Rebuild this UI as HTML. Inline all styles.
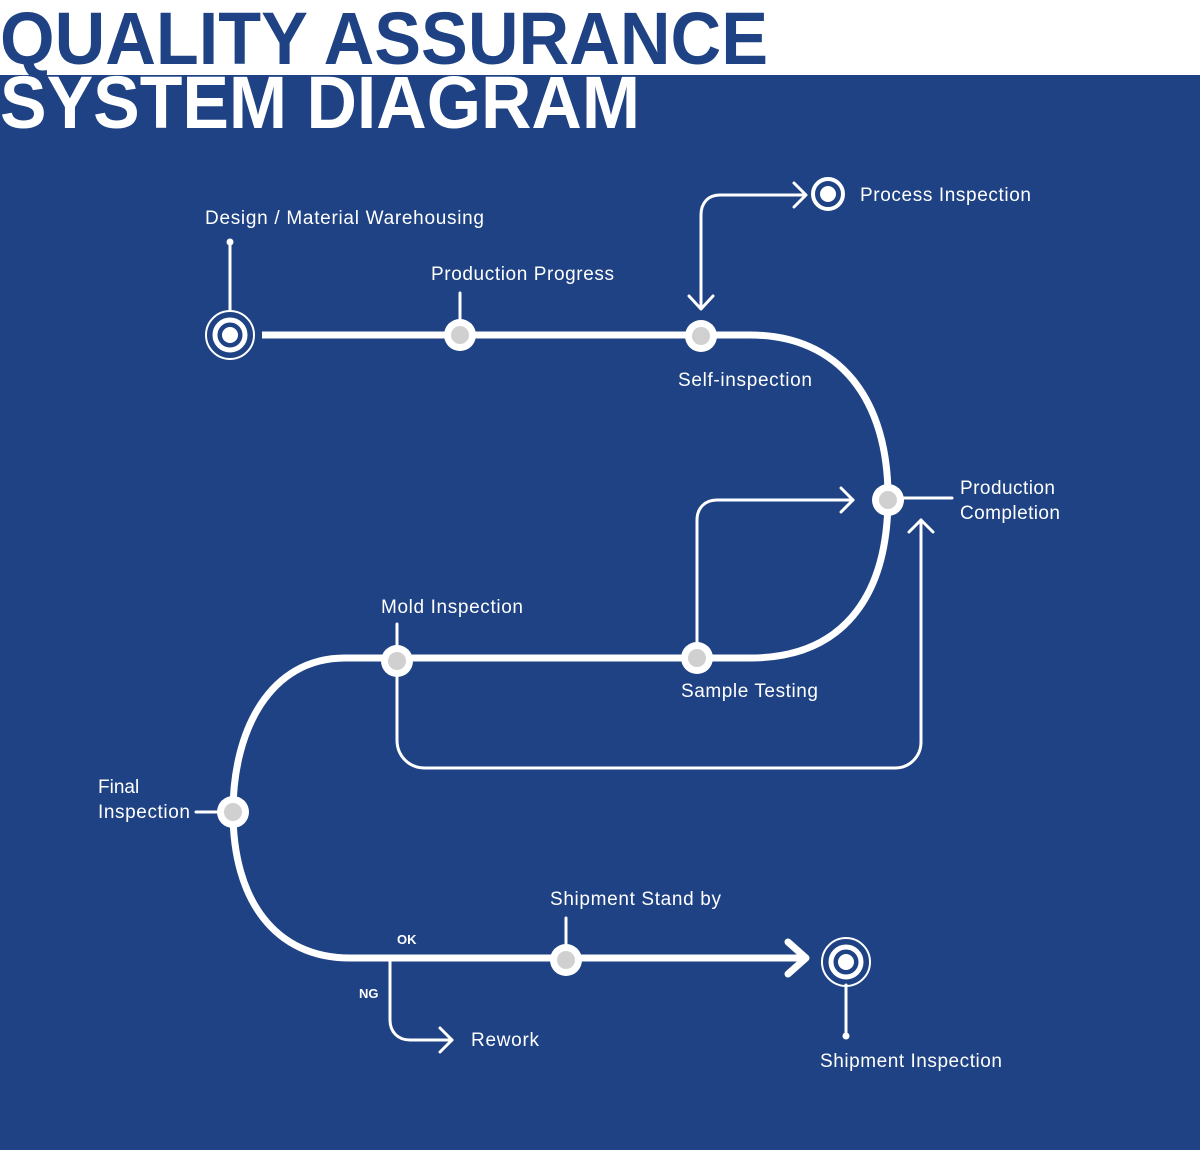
<!DOCTYPE html>
<html><head><meta charset="utf-8"><style>
html,body{margin:0;padding:0;}
body{width:1200px;height:1150px;position:relative;overflow:hidden;background:#fff;}
svg{position:absolute;left:0;top:0;}
</style></head><body>
<svg width="1200" height="1150" viewBox="0 0 1200 1150" xmlns="http://www.w3.org/2000/svg">
<rect x="0" y="0" width="1200" height="1150" fill="#fff"/>
<rect x="0" y="75" width="1200" height="1075" fill="#1e4283"/>
<g font-family="Liberation Sans, sans-serif" font-weight="bold" font-size="74">
<text x="0" y="64" fill="#1e4283" textLength="768" lengthAdjust="spacingAndGlyphs">QUALITY ASSURANCE</text>
<text x="0" y="128" fill="#fff" textLength="640" lengthAdjust="spacingAndGlyphs">SYSTEM DIAGRAM</text>
</g>
<g stroke="#fff" fill="none" stroke-linecap="round" stroke-linejoin="round">
<path d="M262,335 L750,335 C840,335 888,400 888,497 C888,600 840,658 750,658 L345,658 C270,658 233,730 233,812 C233,900 275,958 350,958 L805,958" stroke-width="7" stroke-linecap="butt"/>
<polyline points="788,942 806,958 788,974" stroke-width="7"/>
<g stroke-width="3">
<line x1="230" y1="242" x2="230" y2="310"/>
<line x1="460" y1="293" x2="460" y2="322"/>
<path d="M701,308 L701,215 C701,203 708,195 720,195 L805,195"/>
<polyline points="689,296 701,309 713,296"/>
<polyline points="794,183 806,195 794,207"/>
<line x1="888" y1="498" x2="952" y2="498"/>
<path d="M697,645 L697,520 C697,508 705,500 717,500 L853,500"/>
<polyline points="841,488 853,500 841,512"/>
<line x1="397" y1="624" x2="397" y2="648"/>
<path d="M397,672 L397,740 C397,756 409,768 425,768 L895,768 C910,768 921,756 921,742 L921,520"/>
<polyline points="909,532 921,520 933,532"/>
<line x1="196" y1="812" x2="220" y2="812"/>
<line x1="566" y1="918" x2="566" y2="946"/>
<path d="M390,958 L390,1020 C390,1032 398,1040 410,1040 L452,1040"/>
<polyline points="440,1028 452,1040 440,1052"/>
<line x1="846" y1="985" x2="846" y2="1035"/>
</g>
</g>
<g fill="#fff">
<circle cx="230" cy="242" r="3.5"/>
<circle cx="846" cy="1036" r="3.5"/>
</g>
<circle cx="230" cy="335" r="24" fill="none" stroke="#fff" stroke-width="2"/>
<circle cx="230" cy="335" r="15" fill="none" stroke="#fff" stroke-width="5"/>
<circle cx="230" cy="335" r="8" fill="#fff"/>
<circle cx="828" cy="194" r="15" fill="none" stroke="#fff" stroke-width="4"/>
<circle cx="828" cy="194" r="8" fill="#fff"/>
<circle cx="846" cy="962" r="24" fill="none" stroke="#fff" stroke-width="2"/>
<circle cx="846" cy="962" r="15" fill="none" stroke="#fff" stroke-width="5"/>
<circle cx="846" cy="962" r="8" fill="#fff"/>
<g>
<circle cx="460" cy="335" r="16" fill="#fff"/><circle cx="460" cy="335" r="9" fill="#d0d0d0"/>
<circle cx="701" cy="336" r="16" fill="#fff"/><circle cx="701" cy="336" r="9" fill="#d0d0d0"/>
<circle cx="888" cy="500" r="16" fill="#fff"/><circle cx="888" cy="500" r="9" fill="#d0d0d0"/>
<circle cx="697" cy="658" r="16" fill="#fff"/><circle cx="697" cy="658" r="9" fill="#d0d0d0"/>
<circle cx="397" cy="661" r="16" fill="#fff"/><circle cx="397" cy="661" r="9" fill="#d0d0d0"/>
<circle cx="233" cy="812" r="16" fill="#fff"/><circle cx="233" cy="812" r="9" fill="#d0d0d0"/>
<circle cx="566" cy="960" r="16" fill="#fff"/><circle cx="566" cy="960" r="9" fill="#d0d0d0"/>
</g>
<g font-family="Liberation Sans, sans-serif" font-size="19" fill="#fff" lengthAdjust="spacingAndGlyphs">
<text x="205" y="224" textLength="279">Design / Material Warehousing</text>
<text x="431" y="280" textLength="183">Production Progress</text>
<text x="860" y="201" textLength="171">Process Inspection</text>
<text x="678" y="386" textLength="134">Self-inspection</text>
<text x="960" y="494" textLength="95">Production</text>
<text x="960" y="519" textLength="100">Completion</text>
<text x="381" y="613" textLength="142">Mold Inspection</text>
<text x="681" y="697" textLength="137">Sample Testing</text>
<text x="98" y="793">Final</text>
<text x="98" y="818" textLength="92">Inspection</text>
<text x="550" y="905" textLength="171">Shipment Stand by</text>
<text x="471" y="1046" textLength="68">Rework</text>
<text x="820" y="1067" textLength="182">Shipment Inspection</text>
<text x="397" y="944" font-size="13" font-weight="bold">OK</text>
<text x="359" y="998" font-size="13" font-weight="bold">NG</text>
</g>
</svg>
</body></html>
